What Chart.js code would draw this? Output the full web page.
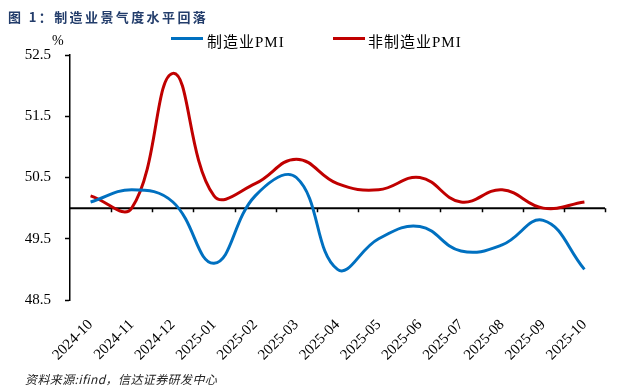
<!DOCTYPE html>
<html><head><meta charset="utf-8">
<script src="https://cdn.jsdelivr.net/npm/chart.js@4/dist/chart.umd.min.js"></script>
<style>
html,body{margin:0;padding:0;background:#fff;}
#wrap{position:relative;width:629px;height:387px;overflow:hidden;background:#fff;}
canvas{position:absolute;left:0;top:0;}
.t{position:absolute;white-space:nowrap;line-height:1;}
.sw{position:absolute;height:3px;width:32px;}
</style></head><body>
<div id="wrap">
<canvas id="c" width="629" height="387"></canvas>
<div class="t" style="left:8px;top:7px;font:bold 13px 'Noto Sans CJK SC';letter-spacing:2.4px;color:#233d6b;">图 1：制造业景气度水平回落</div>
<div class="sw" style="left:171px;top:37px;background:#0070C0;"></div>
<div class="t" id="lg1" style="left:207px;top:30px;font:15px 'Liberation Serif','Noto Sans CJK SC';letter-spacing:1px;color:#000;"></div>
<div class="sw" style="left:333px;top:37px;background:#C00000;"></div>
<div class="t" id="lg2" style="left:368px;top:30px;font:15px 'Liberation Serif','Noto Sans CJK SC';letter-spacing:1px;color:#000;"></div>
<div class="t" style="left:52px;top:33px;font:14px 'Liberation Serif';color:#000;">%</div>
<div class="t" style="left:25px;top:370px;font:italic 12px 'Noto Sans CJK SC';letter-spacing:0.4px;color:#222;">资料来源:ifind，信达证券研发中心</div>
</div>
<script>
const categories = ['2024-10','2024-11','2024-12','2025-01','2025-02','2025-03','2025-04','2025-05','2025-06','2025-07','2025-08','2025-09','2025-10'];
const mfgPMI = [50.1,50.3,50.1,49.1,50.2,50.5,49.0,49.5,49.7,49.3,49.4,49.8,49.0];
const nonMfgPMI = [50.2,50.0,52.2,50.2,50.4,50.8,50.4,50.3,50.5,50.1,50.3,50.0,50.1];
const yTicks = [48.5,49.5,50.5,51.5,52.5];
const seriesNames = ['制造业PMI','非制造业PMI'];
const baseline = 50;

document.getElementById('lg1').textContent = seriesNames[0];
document.getElementById('lg2').textContent = seriesNames[1];

const baselinePlugin = {
  id: 'baseline',
  beforeDatasetsDraw(chart) {
    const {ctx, chartArea, scales: {x, y}} = chart;
    const py = y.getPixelForValue(baseline);
    const step = x.getPixelForValue(1) - x.getPixelForValue(0);
    ctx.save();
    ctx.strokeStyle = '#000';
    ctx.lineWidth = 2;
    ctx.beginPath();
    ctx.moveTo(chartArea.left, py);
    ctx.lineTo(chartArea.right, py);
    ctx.stroke();
    ctx.lineWidth = 1.5;
    ctx.beginPath();
    for (let i = 0; i < categories.length; i++) {
      const px = Math.round(x.getPixelForValue(i) + step / 2) + 0.5;
      ctx.moveTo(px, py);
      ctx.lineTo(px, py + 4);
    }
    ctx.stroke();
    ctx.restore();
  }
};

new Chart(document.getElementById('c'), {
  type: 'line',
  data: {
    labels: categories,
    datasets: [
      {label: seriesNames[0], data: mfgPMI, borderColor: '#0070C0', backgroundColor: '#0070C0', borderWidth: 3, pointRadius: 0, tension: 0.42, fill: false},
      {label: seriesNames[1], data: nonMfgPMI, borderColor: '#C00000', backgroundColor: '#C00000', borderWidth: 3, pointRadius: 0, tension: 0.42, fill: false}
    ]
  },
  options: {
    responsive: false,
    animation: false,
    layout: {padding: {top: 55, right: 24, left: 0, bottom: 0}},
    plugins: {legend: {display: false}, tooltip: {enabled: false}},
    scales: {
      x: {
        type: 'category',
        offset: true,
        grid: {display: false},
        border: {display: false},
        ticks: {minRotation: 45, maxRotation: 45, autoSkip: false, padding: 8,
          font: {family: 'Liberation Serif', size: 15}, color: '#000'},
        afterFit(s) { s.height = 87; }
      },
      y: {
        min: 48.5, max: 52.5,
        afterBuildTicks(s) { s.ticks = yTicks.map(v => ({value: v})); },
        grid: {drawOnChartArea: false, drawTicks: true, tickLength: 5, tickColor: '#000', tickWidth: 1.5},
        border: {color: '#000', width: 1.5},
        ticks: {padding: 14, font: {family: 'Liberation Serif', size: 15}, color: '#000',
          callback: v => Number(v).toFixed(1)},
        afterFit(s) { s.width = 70; }
      }
    }
  },
  plugins: [baselinePlugin]
});
</script>
</body></html>
